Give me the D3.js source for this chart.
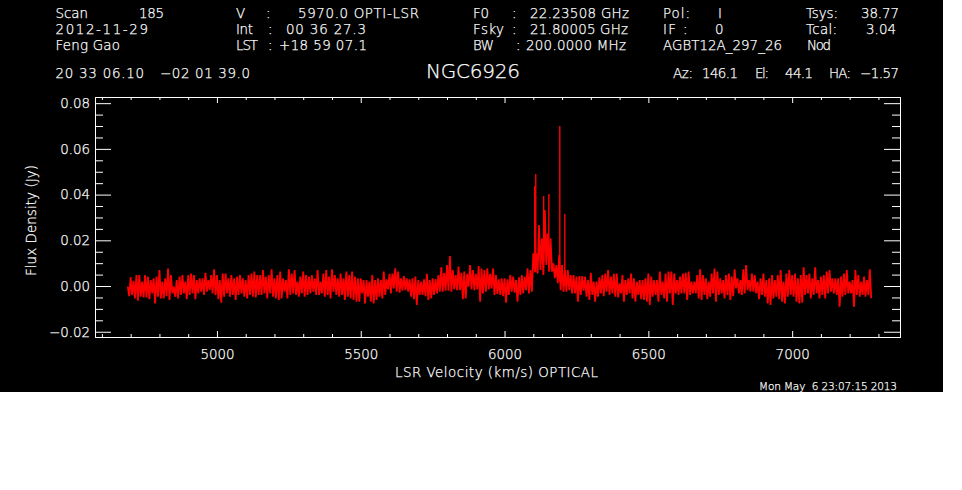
<!DOCTYPE html>
<html>
<head>
<meta charset="utf-8">
<style>
  html, body { margin: 0; padding: 0; background: #fff; }
  svg { display: block; }
  text { fill: #fff; stroke: #fff; stroke-width: 0.25px; font-family: "DejaVu Sans", sans-serif; font-weight: 200; white-space: pre; }
</style>
</head>
<body>
<svg id="chart" width="962" height="490"></svg>
<script src="https://cdn.jsdelivr.net/npm/d3@7"></script>
<script>
// upper and lower edge of the trace, one pair per 10 km/s, in mJy
const fluxHigh = [
  -0.3,3.8,2.3,4.8,4.8,1.9,4.8,4.1,2.6,3.4,4.1,7,1.9,3.4,7.7,4.8,-0.3,2.6,4.1,4.8,1.9,4.8,5.5,4.8,2.6,3.4,3.4,5.8,2.6,4.8,7.3,4.8,2.6,5.5,5.5,3.4,4.8,3.4,4.1,4.8,3.4,2.6,4.8,5.5,6.3,
  4.8,4.8,7,4.1,4.8,7.3,3.4,4.8,6.3,3.4,2.6,7.3,5.5,7,1.9,4.1,6.3,4.8,4.1,4.8,3.4,7,1.9,5.5,7,4.1,7.3,4.8,3.4,5.5,3.4,6.3,4.8,6.3,4.1,3.4,3.4,2.6,2.6,1.9,4.8,2.6,3.4,2.6,6.3,
  2.9,5.3,5.5,7.7,6.3,3.4,4.4,3.4,2.9,3.4,4.1,2.6,1.9,2.9,5.3,2.6,3.4,2.9,4.8,8.2,5.8,9.2,13.1,7,4.8,8.5,5.8,6.3,5.3,9.2,7,5.3,8.8,7.7,7,7.7,5.3,7.7,4.8,2.9,3.4,3.4,2.9,4.8,4.1,
  2.6,3.8,4.8,4.1,7.7,7,14.3,14.3,26.7,20.9,33.3,23,20.9,9.9,9.2,13.6,9.2,7,7,4.8,4.8,4.1,4.4,4.4,4.1,
  2.6,5.8,1.9,1.9,3.8,4.8,5.5,7,4.1,5.3,5.5,1.2,4.8,2.6,3.4,5.5,3.4,1.9,2.6,2.6,3.4,5.5,4.1,2.6,2.6,6.3,1.9,5.5,6.3,6.3,5.5,2.6,4.1,5.5,5.8,6.3,1.9,1.9,4.8,7.3,4.8,3.4,1.9,5.5,7.7,6.3,3.4,2.6,4.8,5.5,
  4.1,7.3,3.4,2.6,7.3,9.2,2.6,5.5,4.8,1.9,3.4,5.5,2.6,3.4,4.8,2.6,4.8,7,1.9,5.5,7,4.8,5.5,3.4,4.8,8.2,4.8,5.5,3.4,8.2,2.6,4.1,4.8,6.3,7,3.4,3.4,3.4,4.1,5.5,7,1.9,2.6,7,4.8,1.9,4.1,2.6,7.3
];
const fluxLow = [
  -4.4,-3.9,-5.4,-6.4,-4.7,-5,-5.1,-5.8,-3.2,-7.6,-4.7,-5.4,-5.4,-4.4,-6.1,-3.2,-4.7,-5.4,-3.9,-3.2,-5.8,-3.9,-3.2,-5.8,-3.2,-2.5,-3.9,-2.5,-1.8,-3.2,-3.9,-5.8,-7.3,-4.7,-3.2,-4.7,-3.9,-6.1,-3.9,-3.2,-4.7,-5.4,-3.9,-4.7,-5,
  -3.9,-3.9,-3.2,-5.4,-3.2,-4.7,-5.4,-6.1,-5.4,-2.5,-5.4,-3.9,-3.2,-3.9,-4.7,-3.2,-4.7,-3.9,-3.2,-2.5,-3.9,-3.9,-3.2,-4.7,-3.9,-5.4,-2.5,-3.9,-4.7,-3.9,-6.1,-4.7,-5.4,-6.1,-6.8,-6.8,-3.2,-7.6,-4.7,-6.8,-7.6,-6.1,-4.7,-5.4,-3.9,
  -1.5,-3.2,-1,-2.5,-2.9,-2,-1.8,-2.5,-4.7,-5.8,-8.3,-3.9,-3.9,-4.4,-6.1,-5.4,-3.9,-3.2,-2.5,-2.5,-2,-2,-2.5,-1.5,-1.8,-1.8,-5.8,-5.4,-0.3,-1.5,-1.8,-1.5,-6.9,-3.2,-2.5,-1.5,-1,-3.9,-3.5,-3.9,-4.4,-7.3,-3.9,-2.5,-2.9,
  -6.9,-3.9,-3.2,-1.8,-3.2,-2.5,7,5.5,7,4.8,9.2,6.3,6.3,3.4,1.2,-1.8,-2.5,-2.5,-1.8,-3.2,-3.2,-6.9,-3.9,-2,-4.7,
  -6.1,-3.9,-6.9,-4.7,-3.2,-4.4,-2.5,-3.9,-3.2,-4.7,-5,-3.2,-6.9,-3.9,-3.2,-5.4,-6.9,-3.9,-5.8,-6.1,-6.9,-8.3,-4.7,-3.9,-6.9,-3.9,-5.4,-6.9,-3.2,-8.3,-3.2,-3.9,-3.2,-3.2,-6.1,-3.9,-3.2,-3.2,-5.4,-6.1,-3.9,-5.8,-4.7,-3.2,-6.9,-3.9,-3.2,-5.4,-3.9,-6.1,
  -4.4,-1,-3.2,-3.9,-3.2,-1.8,-2.5,-2.5,-3.2,-5.8,-3.9,-4.7,-7.6,-8.3,-5.4,-4.7,-5.8,-6.9,-7.6,-4.7,-3.9,-4.7,-6.9,-7.6,-7.3,-3.9,-3.2,-5.4,-3.9,-3.2,-5.4,-3.9,-5.4,-3.2,-2.5,-3.2,-3.9,-9.1,-4.7,-3.9,-3.2,-3.2,-9.1,-3.9,-4.7,-3.9,-4.7,-3.9,-5.4
];
const startVelocity = 4690;
const channelWidth = 5;

// single channel spikes of the maser line
const spikeVelocity = [6105, 6108.5, 6136, 6154, 6192, 6209.5];
const spikeFlux = [43.8, 49, 39.4, 40.3, 70, 31.5];
const spikeBase = [6, 6, 10, 8, 2, 0];

const xMajor = [5000, 5500, 6000, 6500, 7000];
const xMinor = [4600, 4700, 4800, 4900, 5100, 5200, 5300, 5400, 5600, 5700, 5800, 5900, 6100, 6200, 6300, 6400, 6600, 6700, 6800, 6900, 7100, 7200, 7300];
const yMajor = [-0.02, 0, 0.02, 0.04, 0.06, 0.08];
const yMinor = [-0.015, -0.01, -0.005, 0.005, 0.01, 0.015, 0.025, 0.03, 0.035, 0.045, 0.05, 0.055, 0.065, 0.07, 0.075];

const headerRows = [
  ["Scan", "185", "V", ":", "5970.0 OPTI-LSR", "F0", ":", "22.23508 GHz", "Pol:", "I", "Tsys:", "38.77"],
  ["2012-11-29", "Int", ":", "00 36 27.3", "Fsky", ":", "21.80005 GHz", "IF", ":", "0", "Tcal:", "3.04"],
  ["Feng Gao", "LST", ":", "+18 59 07.1", "BW", ":", "200.0000 MHz", "AGBT12A_297_26", "Nod"],
  ["20 33 06.10", "\u221202 01 39.0", "Az:", "146.1", "El:", "44.1", "HA:", "\u22121.57"]
];
const sourceName = "NGC6926";
const xTitle = "LSR Velocity (km/s) OPTICAL";
const yTitle = "Flux Density (Jy)";
const stamp = "Mon May  6 23:07:15 2013";

// left and right pixel edge of every header piece, same order as headerRows
const headerSpans = [
  [[55.5, 88], [139, 164], [236, 245], [266, 269], [298, 419], [473, 489], [512, 515], [530, 629], [663, 690], [718, 720], [806, 838], [861, 899]],
  [[55.5, 148], [236, 253], [268, 271], [286, 366], [473, 504], [512, 515], [530, 628], [663, 676], [683, 686], [715, 722], [806, 837], [866, 896]],
  [[55.5, 120], [236, 258], [268, 271], [279, 367], [473, 494], [516, 519], [526, 626], [663, 782], [807, 831]],
  [[55.5, 144], [160, 250], [673, 693], [702, 738], [755, 769], [785, 813], [829, 851], [860, 899]]
];
const headerBaselines = [18, 34, 50, 78];

const svg = d3.select("#chart");

svg.append("rect")
  .attr("width", 943)
  .attr("height", 392)
  .attr("fill", "#000");

const plot = { left: 95, right: 900, top: 97, bottom: 337 };

const x = d3.scaleLinear().domain([4576, 7375]).range([plot.left, plot.right]);
const y = d3.scaleLinear().domain([-0.0223, 0.0827]).range([plot.bottom, plot.top]);

// zigzag through the two edges, high then low
const trace = d3.merge(fluxHigh.map((h, i) => [h, fluxLow[i]]));

const line = d3.line()
  .x((d, i) => x(startVelocity + i * channelWidth))
  .y(d => y(d / 1000));

svg.append("path")
  .datum(trace)
  .attr("d", line)
  .attr("fill", "none")
  .attr("stroke", "#f00")
  .attr("stroke-width", 1.8)
  .attr("stroke-linejoin", "miter")
  .attr("stroke-miterlimit", 3);

svg.selectAll(".spike")
  .data(spikeVelocity)
  .enter()
  .append("line")
  .attr("class", "spike")
  .attr("x1", d => x(d))
  .attr("x2", d => x(d))
  .attr("y1", (d, i) => y(spikeFlux[i] / 1000))
  .attr("y2", (d, i) => y(spikeBase[i] / 1000))
  .attr("stroke", "#f00")
  .attr("stroke-width", 1.4);

function drawAxis(axis, dx, dy) {
  const g = svg.append("g")
    .attr("transform", `translate(${dx},${dy})`)
    .call(axis.tickSizeOuter(0));
  g.selectAll("line, path").attr("stroke", "#fff");
  g.selectAll("text").attr("font-size", 13.4).attr("fill", "#fff");
  return g;
}

// minor ticks first, the major axes carry the box and the labels
drawAxis(d3.axisBottom(x).tickValues(xMinor).tickSizeInner(-3).tickFormat(""), 0, plot.bottom);
drawAxis(d3.axisTop(x).tickValues(xMinor).tickSizeInner(-3).tickFormat(""), 0, plot.top);
drawAxis(d3.axisLeft(y).tickValues(yMinor).tickSizeInner(-8).tickFormat(""), plot.left, 0);
drawAxis(d3.axisRight(y).tickValues(yMinor).tickSizeInner(-8).tickFormat(""), plot.right, 0);

drawAxis(d3.axisBottom(x).tickValues(xMajor).tickSizeInner(-6).tickPadding(12).tickFormat(d3.format("d")), 0, plot.bottom);
drawAxis(d3.axisTop(x).tickValues(xMajor).tickSizeInner(-6).tickFormat(""), 0, plot.top);
drawAxis(d3.axisLeft(y).tickValues(yMajor).tickSizeInner(-16).tickPadding(5).tickFormat(d3.format(".2f")), plot.left, 0);
drawAxis(d3.axisRight(y).tickValues(yMajor).tickSizeInner(-16).tickFormat(""), plot.right, 0);

headerRows.forEach((row, r) => {
  svg.selectAll(`.row${r}`)
    .data(row)
    .enter()
    .append("text")
    .attr("class", `row${r}`)
    .attr("x", (d, i) => headerSpans[r][i][0])
    .attr("y", headerBaselines[r])
    .attr("font-size", 13.4)
    .attr("textLength", (d, i) => headerSpans[r][i][1] - headerSpans[r][i][0])
    .text(d => d);
});

svg.append("text")
  .attr("x", 426)
  .attr("y", 78)
  .attr("font-size", 20)
  .attr("textLength", 94)
  .text(sourceName);

svg.append("text")
  .attr("x", 395)
  .attr("y", 377)
  .attr("font-size", 13.4)
  .attr("textLength", 203)
  .text(xTitle);

svg.append("text")
  .attr("transform", "translate(36,276) rotate(-90)")
  .attr("font-size", 13.4)
  .attr("textLength", 111)
  .text(yTitle);

svg.append("text")
  .attr("x", 759)
  .attr("y", 390)
  .attr("font-size", 10.5)
  .attr("textLength", 138)
  .text(stamp);
</script>
</body>
</html>
